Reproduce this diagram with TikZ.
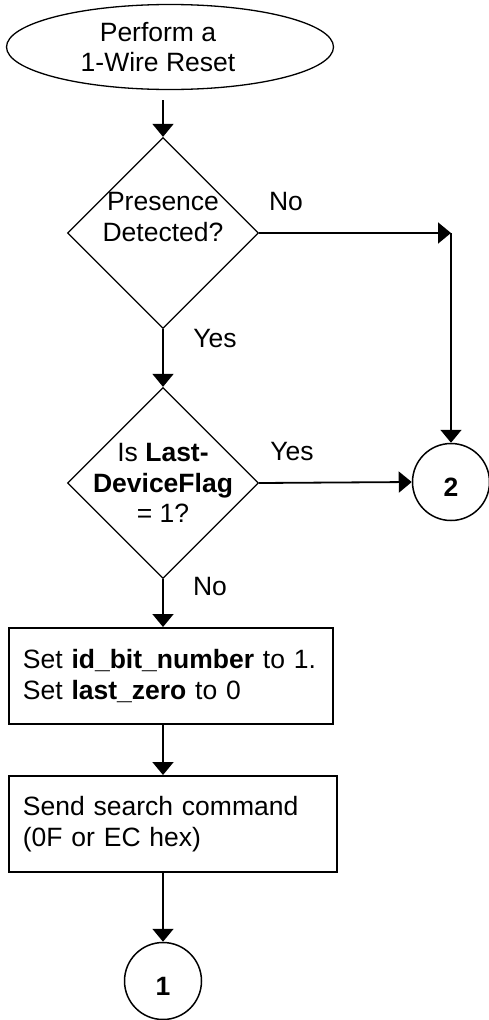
\documentclass[tikz,border=0pt]{standalone}
\usepackage{fontspec}
\setmainfont{Liberation Sans}
\usetikzlibrary{shapes.geometric,arrows.meta,calc}

\begin{document}
\begin{tikzpicture}[x=1pt,y=-1pt,
  font=\fontsize{26.5}{30.5}\selectfont,
  flow/.style={line width=1.8pt,-{Triangle[length=13pt,width=21pt]}},
  decision/.style={diamond,draw,line width=1.3pt,minimum width=191pt,minimum height=191pt,inner sep=0pt},
  process/.style={rectangle,draw,line width=1.8pt,minimum height=96pt,inner xsep=14pt,align=left,anchor=north west},
  connector/.style={circle,draw,line width=1.5pt,minimum size=77pt,inner sep=0pt},
  answer/.style={anchor=base}]
\useasboundingbox (0,0) rectangle (488,1020);

% Start of the search
\node[ellipse,draw,line width=1.3pt,minimum width=327pt,minimum height=85pt,inner sep=0pt,
  label={[align=center,xshift=-12pt]center:Perform a\\1-Wire Reset}] (reset) at (170,47) {};

% Decisions
\node[decision,label={[align=center,yshift=16pt]center:Presence\\Detected?}] (presence) at (163,233) {};
\node[decision,label={[align=center]center:Is \textbf{Last-}\\\textbf{DeviceFlag}\\= 1?}] (lastflag) at (163,483) {};

% Steps
\node[process,text width=296pt] (init) at (8,627) {Set \textbf{id\_bit\_number} to 1.\\Set \textbf{last\_zero} to 0};
\node[process,text width=300pt] (search) at (8,775) {Send search command\\(0F or EC hex)};

% Off-page connectors
\node[connector,label={[yshift=-5pt,font=\fontsize{26.5}{30.5}\selectfont\bfseries]center:2}] (two) at (451,482) {};
\node[connector,label={[yshift=-5pt,font=\fontsize{26.5}{30.5}\selectfont\bfseries]center:1}] (one) at (163,981) {};

% Flow lines
\draw[flow] ($(reset.south -| presence.north)+(0,10)$) -- (presence.north);
\draw[flow] (presence.south) -- (lastflag.north);
\coordinate (turn) at (two.north |- presence.east);
\draw[flow] (presence.east) -- (turn);
\draw[flow] (turn) -- (two.north);
\draw[flow] (lastflag.east) -- (two.west);
\draw[flow] (lastflag.south) -- (lastflag.south |- init.north);
\draw[flow] (init.south -| lastflag.south) -- (search.north -| lastflag.south);
\draw[flow] (search.south -| one.north) -- (one.north);

% Answers
\node[answer] (nopres) at (286,210) {No};
\node[answer] (yespres) at (215,347) {Yes};
\node[answer] (yesflag) at (292,460) {Yes};
\node[answer] (noflag) at (210,595) {No};
\end{tikzpicture}
\end{document}
